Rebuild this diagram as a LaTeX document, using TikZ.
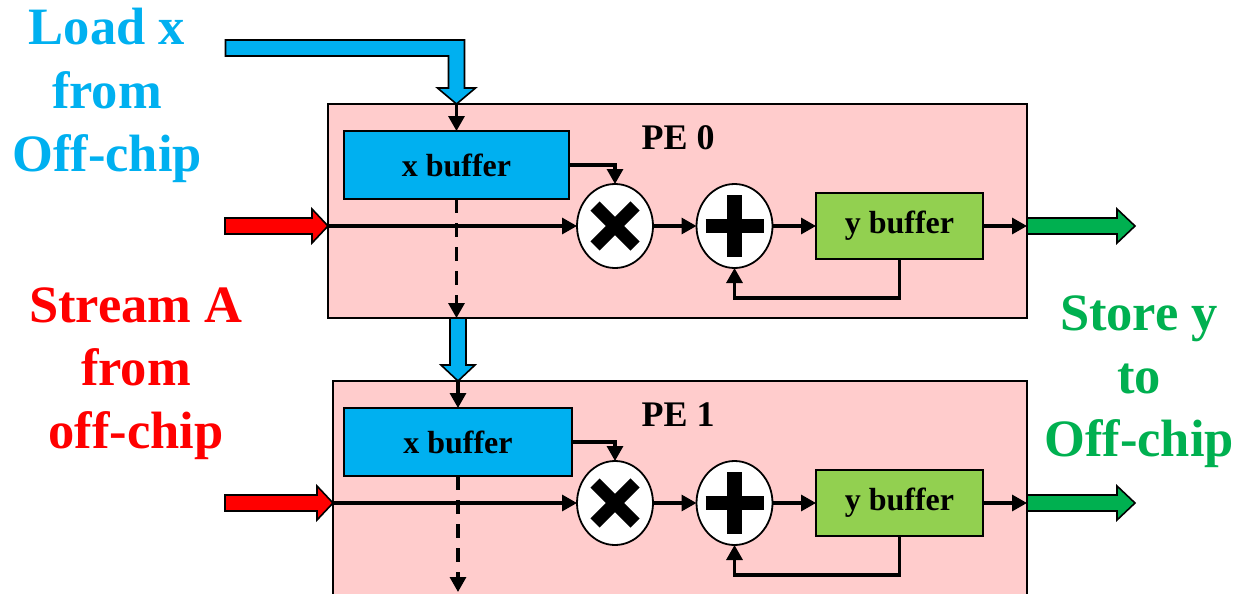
\documentclass[tikz,border=0pt]{standalone}
\usepackage{fontspec}
\setmainfont{Liberation Serif}
\usetikzlibrary{arrows.meta,shapes.geometric,calc}
\definecolor{pefill}{HTML}{FFCCCC}
\definecolor{xcyan}{HTML}{00B0F0}
\definecolor{ygreen}{HTML}{92D050}
\definecolor{storegreen}{HTML}{00B050}
\definecolor{streamred}{HTML}{FF0000}
\tikzset{
  pebox/.style={draw,line width=1.8pt,fill=pefill,rectangle,inner sep=0pt,outer sep=0pt,anchor=north west},
  bufbox/.style={draw,line width=1.8pt,rectangle,inner sep=0pt,outer sep=0pt,
    font=\fontsize{32}{36}\selectfont\bfseries},
  opnode/.style={draw,line width=1.8pt,fill=white,ellipse,inner sep=0pt,outer sep=0pt,
    minimum width=76pt,minimum height=84pt},
  conn/.style={line width=3.2pt,-{Triangle[length=15pt,width=16pt]}},
  dashconn/.style={conn,dash pattern=on 14pt off 10pt},
  fatarrow/.style={draw=black,line width=1.6pt,line join=miter},
  bigtext/.style={font=\fontsize{52.5}{63}\selectfont\bfseries,anchor=base},
  pelabel/.style={font=\fontsize{36}{40}\selectfont\bfseries},
  glyph/.style={line width=13pt}
}
\begin{document}
\begin{tikzpicture}[x=1pt,y=-1pt]
\useasboundingbox (0,0) rectangle (1237,594);

% processing elements
\node[pebox,minimum width=699pt,minimum height=214pt] (pe0) at (328,104) {};
\node[pebox,minimum width=694pt,minimum height=250pt] (pe1) at (333,381) {};
\node[pelabel] (pe0lbl) at (678,138) {PE 0};
\node[pelabel] (pe1lbl) at (678,415) {PE 1};

% PE 0 internals
\node[bufbox,fill=xcyan,minimum width=225pt,minimum height=68pt] (xbuf0) at (456.5,165) {x buffer};
\node[opnode] (mul0) at (615,226) {};
\node[opnode] (add0) at (734.5,226) {};
\node[bufbox,fill=ygreen,minimum width=167pt,minimum height=66pt] (ybuf0) at (899.5,226) {y buffer};

% PE 1 internals
\node[bufbox,fill=xcyan,minimum width=228pt,minimum height=68pt] (xbuf1) at (458,442) {x buffer};
\node[opnode] (mul1) at (615,503) {};
\node[opnode] (add1) at (734.5,503) {};
\node[bufbox,fill=ygreen,minimum width=167pt,minimum height=66pt] (ybuf1) at (899.5,503) {y buffer};

% operator symbols
\foreach \m in {mul0,mul1}{
  \draw[glyph] ($(\m)+(-20,-20)$) -- ($(\m)+(20,20)$);
  \draw[glyph] ($(\m)+(-20,20)$) -- ($(\m)+(20,-20)$);
}
\foreach \a in {add0,add1}{
  \draw[line width=14pt] ($(\a)+(-29,0)$) -- ($(\a)+(29,0)$);
  \draw[line width=15pt] ($(\a)+(0,-31)$) -- ($(\a)+(0,31)$);
}

% entry / exit points on the PE borders
\coordinate (xin0) at (xbuf0.north |- pe0.north);
\coordinate (xin1) at (xbuf1.north |- pe1.north);
\coordinate (ain0) at (mul0.west -| pe0.west);
\coordinate (ain1) at (mul1.west -| pe1.west);
\coordinate (yout0) at (ybuf0.east -| pe0.east);
\coordinate (yout1) at (ybuf1.east -| pe1.east);
\coordinate (xout0) at (xbuf0.south |- pe0.south);
\coordinate (xout1) at ($(xbuf1.south)+(0,116)$);

% connectors inside each PE
\foreach \i in {0,1}{
  \draw[conn] (xin\i) -- (xbuf\i.north);
  \draw[conn] (ain\i) -- (mul\i.west);
  \draw[conn] (xbuf\i.east) -| (mul\i.north);
  \draw[conn] (mul\i.east) -- (add\i.west);
  \draw[conn] (add\i.east) -- (ybuf\i.west);
  \draw[conn] (ybuf\i.east) -- (yout\i);
  \draw[conn] (ybuf\i.south) -- ++(0,39) -| (add\i.south);
  \draw[dashconn] (xbuf\i.south) -- (xout\i);
}

% x input from off-chip
\draw[fatarrow,fill=xcyan] ($(xin0)+(8,-16)$) -- ($(xin0)+(8,-64)$) -- ($(xin0)+(-231,-64)$)
  -- ($(xin0)+(-231,-48)$) -- ($(xin0)+(-8,-48)$) -- ($(xin0)+(-8,-16)$)
  -- ($(xin0)+(-19,-16)$) -- (xin0) -- ($(xin0)+(19,-16)$) -- cycle;
% x passed from PE 0 to PE 1
\draw[fatarrow,fill=xcyan] ($(xin1)+(-8,-63)$) -- ($(xin1)+(8,-63)$) -- ($(xin1)+(8,-16)$)
  -- ($(xin1)+(17,-16)$) -- (xin1) -- ($(xin1)+(-17,-16)$) -- ($(xin1)+(-8,-16)$) -- cycle;

% stream A inputs
\foreach \i in {0,1}{
  \draw[fatarrow,fill=streamred] ($(225,0 |- ain\i)+(0,-8)$) -- ($(ain\i)+(-16,-8)$)
    -- ($(ain\i)+(-16,-17)$) -- (ain\i) -- ($(ain\i)+(-16,17)$) -- ($(ain\i)+(-16,8)$)
    -- ($(225,0 |- ain\i)+(0,8)$) -- cycle;
}

% y outputs
\foreach \i in {0,1}{
  \draw[fatarrow,fill=storegreen] ($(yout\i)+(0,-8)$) -- ($(yout\i)+(90,-8)$)
    -- ($(yout\i)+(90,-17)$) -- ($(yout\i)+(108,0)$) -- ($(yout\i)+(90,17)$)
    -- ($(yout\i)+(90,8)$) -- ($(yout\i)+(0,8)$) -- cycle;
}

% side captions
\node[bigtext,text=xcyan] (loadA) at (107,45) {Load x};
\node[bigtext,text=xcyan] (loadB) at (107,108) {from};
\node[bigtext,text=xcyan] (loadC) at (107,171) {Off-chip};
\node[bigtext,text=streamred] (strA) at (136,322) {Stream A};
\node[bigtext,text=streamred] (strB) at (136,385) {from};
\node[bigtext,text=streamred] (strC) at (136,448) {off-chip};
\node[bigtext,text=storegreen] (stoA) at (1139,330) {Store y};
\node[bigtext,text=storegreen] (stoB) at (1139,393) {to};
\node[bigtext,text=storegreen] (stoC) at (1139,456) {Off-chip};
\end{tikzpicture}
\end{document}
